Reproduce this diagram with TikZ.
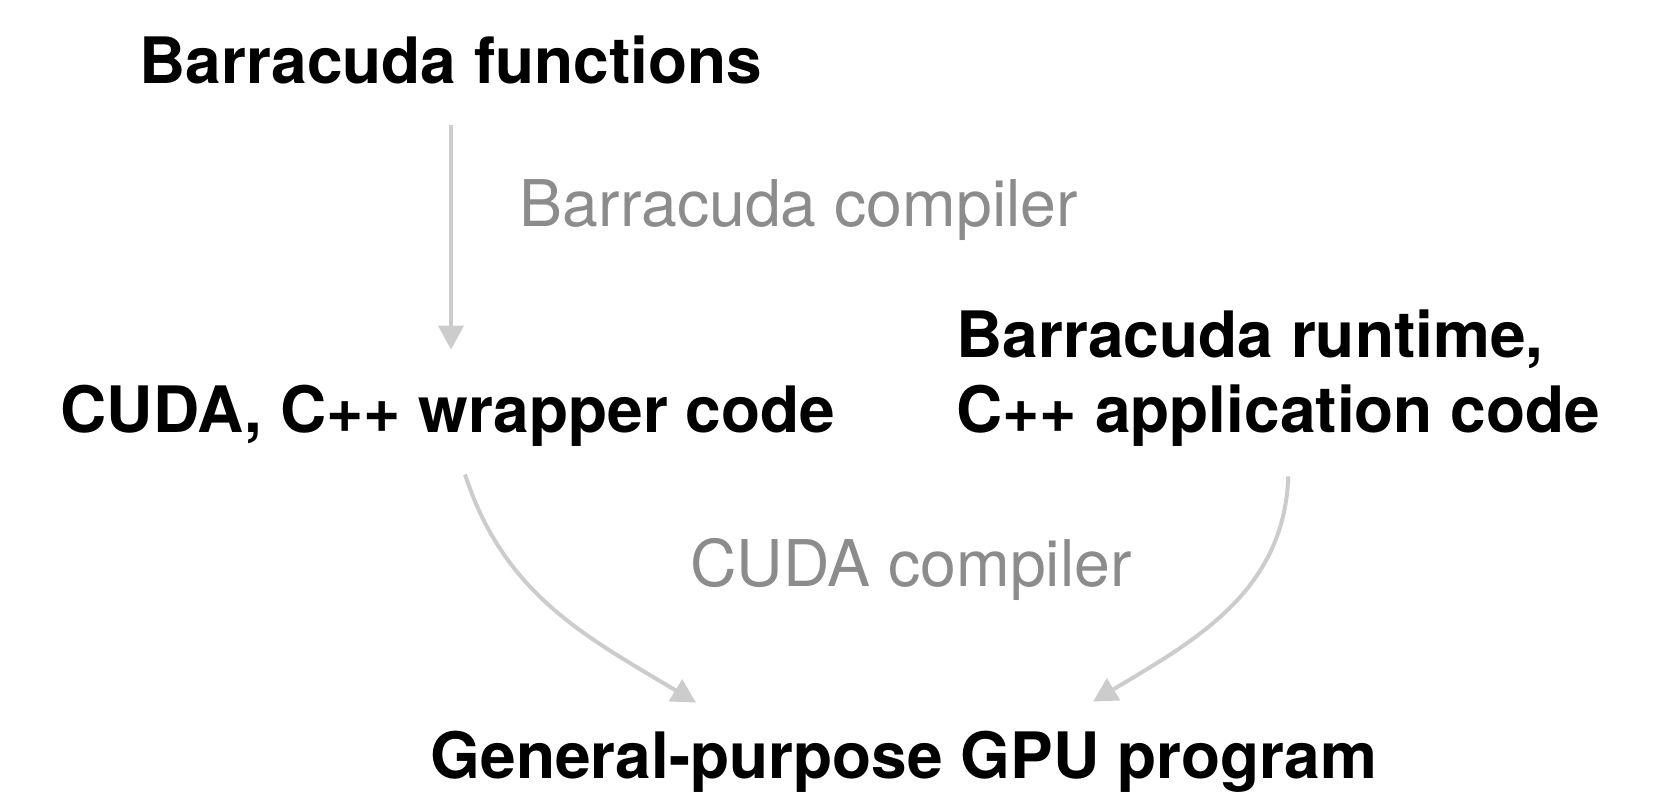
\documentclass[tikz,border=0pt]{standalone}
\usepackage{fontspec}
\setmainfont{TeX Gyre Heros}
\usetikzlibrary{arrows.meta}
\usetikzlibrary{positioning}
\usetikzlibrary{calc}

\definecolor{flowgray}{RGB}{204,204,204}
\definecolor{labelgray}{RGB}{140,140,140}

\begin{document}
\begin{tikzpicture}[
                    x=0.5pt, y=-0.5pt,
                    every node/.style={inner sep=0pt, anchor=base},
                    stage/.style={font=\bfseries\fontsize{32}{37.5}\selectfont, text height=23pt, text depth=7pt},
                    tool/.style={font=\fontsize{32.2}{37.5}\selectfont, text=labelgray},
                    flow/.style={line width=2pt, draw=flowgray, -{Triangle[width=12.5pt,length=12pt]}}
                ]
                \useasboundingbox (0,0) rectangle (1671,794);
                \node[stage] (funcs) at (451,83) {Barracuda functions};
                \node[tool] (bcomp) at (799,226) {Barracuda compiler};
                \node[stage] (wrap) at (448,432) {CUDA, C++ wrapper code};
                \node[stage, align=left, anchor=base west, text height=, text depth=] (app) at (956,432) {Barracuda runtime,\\C++ application code};
                \node[tool] (ccomp) at (911,586) {CUDA compiler};
                \node[stage] (gpu) at (904,778) {General-purpose GPU program};

                \draw[flow, shorten <=14pt, shorten >=18pt] (funcs.south) -- (funcs.south |- wrap.north);
                \draw[flow] ([xshift=8.5pt,yshift=-14pt]wrap.south) to[out=-72, in=149] ([xshift=-104pt,yshift=14.5pt]gpu.north);
                \draw[flow] ([xshift=5pt,yshift=-15pt]app.south) to[out=-92, in=31] ([xshift=94.5pt,yshift=15pt]gpu.north);
            \end{tikzpicture}
\end{document}
